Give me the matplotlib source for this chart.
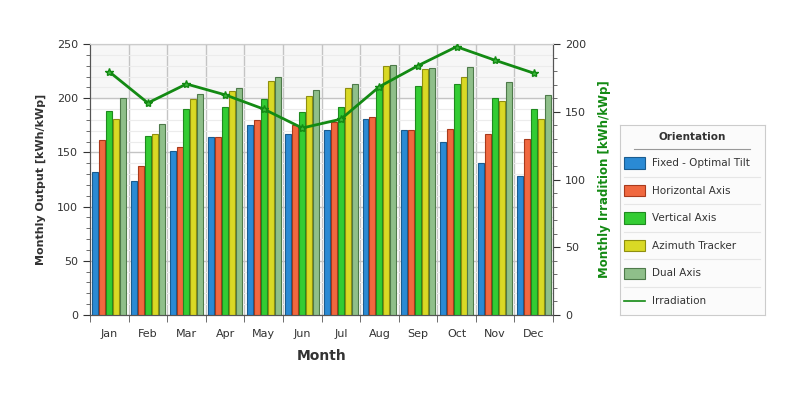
import numpy as np
import matplotlib.pyplot as plt
from matplotlib.patches import Rectangle
from matplotlib.lines import Line2D

months = ['Jan', 'Feb', 'Mar', 'Apr', 'May', 'Jun', 'Jul', 'Aug', 'Sep', 'Oct', 'Nov', 'Dec']
fixed = [132, 124, 151, 164, 175, 167, 171, 181, 171, 160, 140, 128]
horizontal = [161, 137, 155, 164, 180, 175, 178, 183, 171, 172, 167, 162]
vertical = [188, 165, 190, 192, 199, 187, 192, 211, 211, 213, 200, 190]
azimuth = [181, 167, 199, 207, 216, 202, 209, 230, 227, 220, 197, 181]
dual = [200, 176, 204, 209, 220, 208, 213, 231, 228, 229, 215, 203]
irradiation = [179.5, 156.5, 170.5, 162.5, 152, 138, 144.5, 168.5, 184, 198, 188, 178.5]

series_names = ['Fixed - Optimal Tilt', 'Horizontal Axis', 'Vertical Axis', 'Azimuth Tracker', 'Dual Axis']
face_colors = ['#2a8ad4', '#f0683f', '#33cc33', '#d9d925', '#8fbf8a']
edge_colors = ['#1a5c8f', '#a83a1c', '#1f8a1f', '#8f8f10', '#4e7a4a']
line_color = '#138a13'

fig = plt.figure(figsize=(8, 4), dpi=100)
ax = fig.add_axes([0.1125, 0.2125, 0.5788, 0.6775])
ax2 = ax.twinx()

# light band at the top of the plot area
ax.axhspan(200, 250, color='#f7f7f7', zorder=0)
ax.set_facecolor('white')

x = np.arange(len(months))
width = 0.155
step = 0.18
for i, (vals, fc, ec) in enumerate(zip([fixed, horizontal, vertical, azimuth, dual], face_colors, edge_colors)):
    ax.bar(x + (i - 2) * step, vals, width, color=fc, edgecolor=ec, linewidth=0.8, zorder=3)

ax.set_xlim(-0.5, len(months) - 0.5)
ax.set_ylim(0, 250)
ax.set_yticks(np.arange(0, 251, 50))
ax.set_yticks(np.arange(0, 251, 10), minor=True)
ax.grid(axis='y', which='minor', color='#ececec', linewidth=0.8, zorder=1)
ax.grid(axis='y', which='major', color='#c4c4c4', linewidth=1.0, zorder=1)
for b in np.arange(0.5, len(months) - 0.5, 1):
    ax.axvline(b, color='#c4c4c4', linewidth=1.0, zorder=1)

ax.set_xticks(x)
ax.set_xticklabels(months)
ax.set_xticks(np.arange(-0.5, len(months), 1), minor=True)
ax.tick_params(axis='x', which='major', length=0, pad=10, labelsize=8, colors='#333333')
ax.tick_params(axis='x', which='minor', length=5, color='#555555')
ax.tick_params(axis='y', which='major', length=5, labelsize=8, colors='#333333', direction='out')
ax.tick_params(axis='y', which='minor', length=3, color='#555555')

ax.set_xlabel('Month', fontsize=10, fontweight='bold', color='#333333', labelpad=7)
ax.set_ylabel('Monthly Output [kWh/kWp]', fontsize=8, fontweight='bold', color='#333333', labelpad=8)

for a in [ax, ax2]:
    a.spines['top'].set_color('#cccccc')
    a.spines['left'].set_color('#555555')
    a.spines['right'].set_color('#555555')
    a.spines['bottom'].set_color('#555555')

ax2.plot(x, irradiation, color=line_color, linewidth=2, marker='*', markersize=6,
         markerfacecolor='#3cb83c', markeredgecolor=line_color, zorder=5)
ax2.set_ylim(0, 200)
ax2.set_yticks(np.arange(0, 201, 50))
ax2.set_yticks(np.arange(0, 201, 10), minor=True)
ax2.tick_params(axis='y', which='major', length=5, labelsize=8, colors='#333333')
ax2.tick_params(axis='y', which='minor', length=3, color='#555555')
ax2.set_ylabel('Monthly Irradition [kWh/kWp]', fontsize=8.5, fontweight='bold', color='#138a13', labelpad=9)

# legend panel
lax = fig.add_axes([0.775, 0.2125, 0.181, 0.475])
lax.set_xlim(0, 1)
lax.set_ylim(0, 1)
lax.set_xticks([])
lax.set_yticks([])
for sp in lax.spines.values():
    sp.set_color('#cccccc')
lax.set_facecolor('#fbfbfb')
lax.text(0.5, 0.935, 'Orientation', ha='center', va='center', fontsize=7.5, fontweight='bold', color='#333333')
lax.plot([0.1, 0.9], [0.875, 0.875], color='#999999', linewidth=0.8)
row_h = 0.145
for i, (name, fc, ec) in enumerate(zip(series_names, face_colors, edge_colors)):
    yc = 0.80 - i * row_h
    lax.add_patch(Rectangle((0.03, yc - 0.03), 0.14, 0.06, facecolor=fc, edgecolor=ec, linewidth=0.8))
    lax.text(0.22, yc, name, ha='left', va='center', fontsize=7.5, color='#333333')
    lax.plot([0.03, 0.97], [yc - row_h / 2, yc - row_h / 2], color='#e6e6e6', linewidth=0.8)
yc = 0.80 - 5 * row_h
lax.add_line(Line2D([0.03, 0.17], [yc, yc], color=line_color, linewidth=1.2))
lax.text(0.22, yc, 'Irradiation', ha='left', va='center', fontsize=7.5, color='#333333')

fig.savefig('out.png', dpi=100)
